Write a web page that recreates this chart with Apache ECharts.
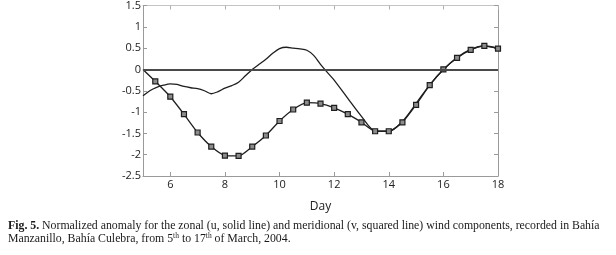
<!DOCTYPE html>
<html>
<head>
<meta charset="utf-8">
<script src="https://cdn.jsdelivr.net/npm/echarts@6/dist/echarts.min.js"></script>
<style>
html,body{margin:0;padding:0;background:#fff;}
#chart{width:616px;height:255px;}
</style>
</head>
<body>
<div id="chart"></div>
<script>
// Zonal (u, solid line): day, anomaly
const uDays = [5.0,5.25,5.5,5.75,6.0,6.25,6.5,6.75,7.0,7.25,7.5,7.75,8.0,8.25,8.5,8.75,9.0,9.25,9.5,9.75,10.0,10.25,10.5,10.75,11.0,11.25,11.5,11.75,12.0,12.5,13.0,13.5,14.0,14.5,15.0,15.5,16.0,16.5,17.0,17.5,18.0];
const uValues = [-0.62,-0.5,-0.42,-0.37,-0.34,-0.35,-0.4,-0.43,-0.45,-0.5,-0.57,-0.52,-0.44,-0.38,-0.3,-0.15,0.0,0.12,0.24,0.38,0.49,0.52,0.5,0.48,0.45,0.33,0.12,-0.07,-0.25,-0.68,-1.1,-1.44,-1.45,-1.22,-0.8,-0.36,0.0,0.28,0.47,0.55,0.5];
// Meridional (v, squared line): day, anomaly
const vDays = [5.0,5.45,6.0,6.5,7.0,7.5,8.0,8.5,9.0,9.5,10.0,10.5,11.0,11.5,12.0,12.5,13.0,13.5,14.0,14.5,15.0,15.5,16.0,16.5,17.0,17.5,18.0];
const vValues = [0.0,-0.28,-0.64,-1.05,-1.48,-1.81,-2.02,-2.03,-1.81,-1.55,-1.21,-0.94,-0.78,-0.8,-0.9,-1.05,-1.24,-1.45,-1.45,-1.24,-0.83,-0.37,0.0,0.27,0.46,0.555,0.49];
const xTicks = [6,8,10,12,14,16,18];
const yTicks = [-2.5,-2,-1.5,-1,-0.5,0,0.5,1,1.5];
const xAxisName = 'Day';
const captionBold = 'Fig. 5.';
const captionLine1 = ' Normalized anomaly for the zonal (u, solid line) and meridional (v, squared line) wind components, recorded in Bahía';
const captionLine2a = 'Manzanillo, Bahía Culebra, from 5';
const captionLine2b = ' to 17';
const captionLine2c = ' of March, 2004.';
const sup = 'th';

const chart = echarts.init(document.getElementById('chart'), null, {renderer:'canvas'});
const frameColor = '#9a9a9a';
const labelFont = {fontFamily:'"Open Sans", "Liberation Sans", sans-serif', fontSize:11, color:'#222'};

const option = {
  animation:false,
  backgroundColor:'#fff',
  grid:{left:143, top:5, width:355, height:171, containLabel:false},
  xAxis:[{
    type:'value', min:5, max:18, position:'bottom',
    axisLine:{show:true, onZero:false, lineStyle:{color:frameColor, width:1}},
    axisTick:{show:true, inside:true, length:4, customValues:xTicks, lineStyle:{color:frameColor}},
    axisLabel:Object.assign({show:true, margin:3, customValues:xTicks, formatter:v=>String(v)}, labelFont),
    splitLine:{show:false},
    name:xAxisName, nameLocation:'middle', nameGap:25,
    nameTextStyle:Object.assign({}, labelFont, {fontSize:12})
  },{
    type:'value', min:5, max:18, position:'top',
    axisLine:{show:true, onZero:false, lineStyle:{color:'#c4c4c4', width:1}},
    axisTick:{show:true, inside:true, length:4, customValues:xTicks, lineStyle:{color:'#b0b0b0'}},
    axisLabel:{show:false}, splitLine:{show:false}
  }],
  yAxis:[{
    type:'value', min:-2.5, max:1.5, interval:0.5, position:'left',
    axisLine:{show:true, onZero:false, lineStyle:{color:frameColor, width:1}},
    axisTick:{show:true, inside:true, length:4, lineStyle:{color:frameColor}},
    axisLabel:Object.assign({show:true, margin:2, customValues:yTicks, formatter:v=>String(v)}, labelFont),
    splitLine:{show:false}
  },{
    type:'value', min:-2.5, max:1.5, interval:0.5, position:'right',
    axisLine:{show:true, onZero:false, lineStyle:{color:frameColor, width:1}},
    axisTick:{show:true, inside:true, length:4, lineStyle:{color:frameColor}},
    axisLabel:{show:false}, splitLine:{show:false}
  }],
  series:[{
    name:'u', type:'line', xAxisIndex:0, yAxisIndex:0,
    data:uDays.map((d,i)=>[d,uValues[i]]),
    smooth:0.3, showSymbol:false, symbol:'none',
    lineStyle:{color:'#1e1e1e', width:1.3},
    z:3,
    markLine:{silent:true, symbol:'none', label:{show:false},
      lineStyle:{color:'#4a4a4a', width:1.8, type:'solid'},
      data:[{yAxis:0}]}
  },{
    name:'v', type:'line', xAxisIndex:0, yAxisIndex:0,
    data:vDays.map((d,i)=> i===0 ? {value:[d,vValues[i]], symbol:'none'} : [d,vValues[i]]),
    smooth:0.2, symbol:'rect', symbolSize:5, showSymbol:true,
    itemStyle:{color:'#8c8c8c', borderColor:'#1e1e1e', borderWidth:1.2},
    lineStyle:{color:'#1e1e1e', width:1.3},
    z:4
  }],
  graphic:[{
    type:'text', left:8, top:220,
    style:{
      text:'{b|'+captionBold+'}{r|'+captionLine1+'}\n{r|'+captionLine2a+'}{s|'+sup+'}{r|'+captionLine2b+'}{s|'+sup+'}{r|'+captionLine2c+'}',
      rich:{
        b:{fontFamily:'"Liberation Serif", serif', fontSize:11.8, fontWeight:'bold', fill:'#1a1a1a', lineHeight:13},
        r:{fontFamily:'"Liberation Serif", serif', fontSize:11.8, fill:'#1a1a1a', lineHeight:13},
        s:{fontFamily:'"Liberation Serif", serif', fontSize:7.5, fill:'#1a1a1a', lineHeight:13, verticalAlign:'top', padding:[0,0,3,0]}
      }
    }
  }]
};
chart.setOption(option);
</script>
</body>
</html>
